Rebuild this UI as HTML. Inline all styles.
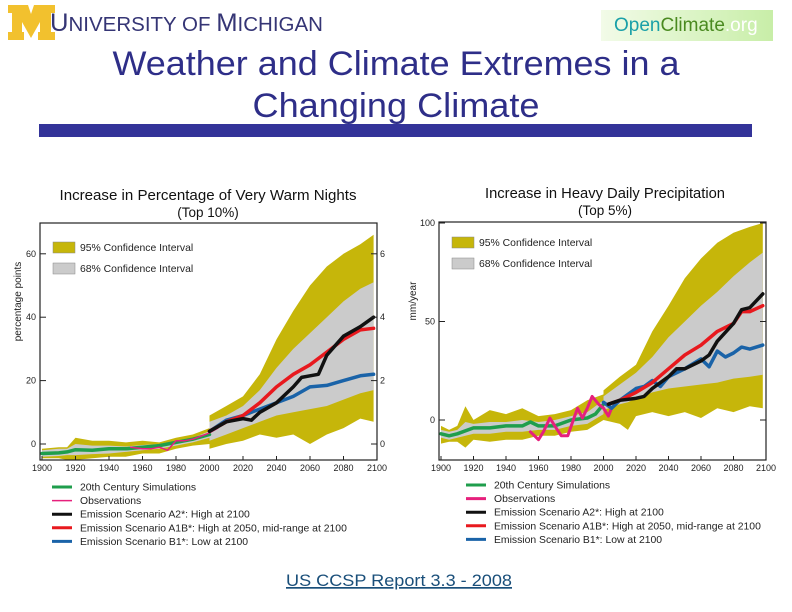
<!DOCTYPE html>
<html><head><meta charset="utf-8">
<style>
body{margin:0;background:#fff;}
#root{position:relative;width:792px;height:612px;overflow:hidden;font-family:"Liberation Sans",sans-serif;}
svg text{font-family:"Liberation Sans",sans-serif;}
</style></head>
<body>
<div id="root">
<svg id="svg" width="792" height="612" viewBox="0 0 792 612">
  <g>
    <path d="M8,5 H28 L31,14 L34,5 H55 V13 H51 V32 H55 V40 H38 V32 H40 V22 L31,38 L22,22 V32 H24 V40 H8 V32 H12 V13 H8 Z" fill="#f2c12e"/>
    <text x="50" y="31" font-family="Liberation Serif" font-size="25" fill="#353575" textLength="273" lengthAdjust="spacingAndGlyphs">U<tspan font-size="20">NIVERSITY OF </tspan>M<tspan font-size="20">ICHIGAN</tspan></text>
  </g>
  <defs><linearGradient id="oc" x1="0" x2="1"><stop offset="0" stop-color="#f2fbe8"/><stop offset="1" stop-color="#c8eea8"/></linearGradient></defs>
  <g>
    <rect x="601" y="10" width="172" height="31" fill="url(#oc)"/>
    <text x="614" y="31" font-size="19" fill="#1aa0a8">Open<tspan fill="#4a8a20">Climate</tspan><tspan fill="#fff">.org</tspan></text>
  </g>
  <text x="396" y="75" text-anchor="middle" font-size="34" fill="#2e2e88" textLength="567" lengthAdjust="spacingAndGlyphs">Weather and Climate Extremes in a</text>
  <text x="396" y="117" text-anchor="middle" font-size="34" fill="#2e2e88" textLength="287" lengthAdjust="spacingAndGlyphs">Changing Climate</text>
  <rect x="39" y="124" width="713" height="13" fill="#333399"/>
  <g id="left"></g>
  <g id="right"></g>
  <a><text x="399" y="586" text-anchor="middle" font-size="17" fill="#1a4f7a" text-decoration="underline" textLength="226" lengthAdjust="spacingAndGlyphs">US CCSP Report 3.3 - 2008</text></a>
</svg>
</div>
<script>
// ---------- Left chart data: Very Warm Nights ----------
const L_histYears=[1900,1910,1915,1920,1930,1940,1950,1960,1970,1980,1990,2000];
const L_histUp=[-1.5,-1,-1,2,1,1,0.5,1,0.5,2,3,5];
const L_histLo=[-4.5,-4.5,-5,-5,-4.5,-4,-4,-3,-3,-1.5,-0.5,0];
const L_hist68Up=[-2,-1.5,-1.5,0,-0.5,-0.5,-0.8,-0.3,0,1,2,4];
const L_hist68Lo=[-4,-3.8,-3.5,-3.5,-3.2,-3,-2.5,-2,-1.5,-0.5,0.5,2];
const L_greenYears=[1900,1910,1915,1920,1930,1940,1950,1960,1970,1980,1990,2000];
const L_green=[-3,-2.8,-2.5,-1.8,-2,-1.5,-1.5,-1,-0.5,0.5,1.5,3];
const L_obsYears=[1953,1960,1965,1970,1975,1980,1985,1990,1995,2000,2005];
const L_obs=[-1,-1.5,-1.5,-1,-2,1,1,1.5,2.5,3.5,5];
const L_futYears=[2000,2010,2020,2030,2040,2050,2060,2070,2080,2090,2098];
const L_f95Up=[9,12,15,22,33,42,50,56,60,63,66];
const L_f95Lo=[-1.5,0,1,3,2,3,0,3,5,8,7];
const L_f68Up=[7,9,12,17,24,30,35,40,45,49,51];
const L_f68Lo=[1,3,5,7,9,10,11,12,14,16,17];
const L_a2Years=[2000,2010,2020,2025,2030,2040,2050,2055,2060,2065,2070,2080,2090,2098];
const L_a2=[4,7,8,7.5,10,13,18,21,21.5,22,28,34,37,40];
const L_a1bYears=[2000,2010,2020,2030,2040,2050,2060,2070,2080,2090,2098];
const L_a1b=[4,7,9,13,18,22,25,29,33,36,36.5];
const L_b1Years=[2000,2010,2020,2030,2040,2050,2060,2070,2080,2090,2098];
const L_b1=[4,7.5,9,11,13,15,18,18.5,20,21.5,22];
const L_yTicks=[0,20,40,60];
const L_xTicks=[1900,1920,1940,1960,1980,2000,2020,2040,2060,2080,2100];

// ---------- Right chart data: Heavy Daily Precipitation ----------
const R_histYears=[1900,1905,1910,1915,1920,1930,1940,1950,1960,1970,1980,1990,2000];
const R_histUp=[-3,-5,-3,7,0,5,3,6,2,3,5,10,13];
const R_histLo=[-12,-11,-11,-14,-10,-11,-10,-10,-8,-8,-6,-5,0];
const R_hist68Up=[-5,-6,-5,-1,-2,-1,-1,0,-1,0,2,4,10];
const R_hist68Lo=[-9,-10,-9,-8,-7,-7,-6,-6,-5,-5,-3,-2,3];
const R_greenYears=[1900,1905,1910,1920,1930,1940,1950,1955,1960,1970,1980,1990,1995,2000];
const R_green=[-7,-8,-7,-4,-4,-3,-3,-1,-3,-3,0,1,3,8];
const R_obsYears=[1955,1960,1963,1967,1970,1974,1978,1981,1984,1987,1990,1993,1997,2000,2003,2005];
const R_obs=[-6,-10,-6,1,-3,-8,-8,-1,6,1,6,12,8,6,2,6];
const R_futYears=[2000,2010,2015,2020,2030,2040,2050,2060,2070,2080,2090,2098];
const R_f95Up=[15,22,25,28,45,58,72,82,90,95,98,100];
const R_f95Lo=[0,-2,-5,2,4,2,4,1,6,4,7,6];
const R_f68Up=[12,18,21,24,32,42,50,58,65,73,80,85];
const R_f68Lo=[5,8,9,11,14,16,17,18,19,21,22,23];
const R_a2Years=[2003,2010,2020,2025,2030,2040,2045,2050,2060,2065,2070,2080,2085,2090,2098];
const R_a2=[8,10,11,12,16,22,26,26,30,33,40,49,56,57,64];
const R_a1bYears=[2003,2010,2020,2030,2040,2050,2060,2070,2080,2085,2090,2098];
const R_a1b=[8,10,14,19,26,33,38,45,49,55,55,58];
const R_b1Years=[2000,2005,2010,2020,2025,2030,2035,2040,2050,2060,2065,2070,2075,2080,2085,2090,2098];
const R_b1=[9,6,10,16,17,20,17,22,26,31,27,35,32,34,37,36,38];
const R_yTicks=[0,50,100];
const R_xTicks=[1900,1920,1940,1960,1980,2000,2020,2040,2060,2080,2100];

const NS='http://www.w3.org/2000/svg';
function mk(tag,attrs,parent){const e=document.createElementNS(NS,tag);for(const k in attrs)e.setAttribute(k,attrs[k]);parent.appendChild(e);return e;}
function linePath(xs,ys,X,Y){return xs.map((x,i)=>(i?'L':'M')+X(x).toFixed(1)+','+Y(ys[i]).toFixed(1)).join(' ');}
function bandPath(xs,up,lo,X,Y){let d=linePath(xs,up,X,Y);for(let i=xs.length-1;i>=0;i--)d+=' L'+X(xs[i]).toFixed(1)+','+Y(lo[i]).toFixed(1);return d+' Z';}

const OLIVE='#c6b60a',GRAY='#cbcbcb',GREEN='#1f9e4c',PINK='#e6207c',RED='#e8191e',BLUE='#1a63a8';

function drawChart(g,cfg){
  const X=v=>cfg.x0+(v-1900)/200*(cfg.x1-cfg.x0);
  const Y=v=>cfg.y0-(v-0)*cfg.pxPer;
  let t=mk('text',{x:cfg.cx,y:cfg.ty,'text-anchor':'middle','font-size':15,fill:'#111',textLength:cfg.tlen,lengthAdjust:'spacingAndGlyphs'},g);
  
  
  t.textContent=cfg.title;
  t=mk('text',{x:cfg.cx,y:cfg.ty+17,'text-anchor':'middle','font-size':13.5,fill:'#111'},g);
  
  
  t.textContent=cfg.sub;
  let p=mk('path',{d:bandPath(cfg.d.hy,cfg.d.hu,cfg.d.hl,X,Y),fill:OLIVE},g);
  
  
  p=mk('path',{d:bandPath(cfg.d.hy,cfg.d.h6u,cfg.d.h6l,X,Y),fill:GRAY},g);
  
  
  p=mk('path',{d:bandPath(cfg.d.fy,cfg.d.fu,cfg.d.fl,X,Y),fill:OLIVE},g);
  
  
  p=mk('path',{d:bandPath(cfg.d.fy,cfg.d.f6u,cfg.d.f6l,X,Y),fill:GRAY},g);
  
  
  const series=[['green-line',cfg.d.gy,cfg.d.g,GREEN,3.5],['observations-line',cfg.d.oy,cfg.d.o,PINK,cfg.obsW],['b1-line',cfg.d.by,cfg.d.b,BLUE,3.5],['a1b-line',cfg.d.ry,cfg.d.r,RED,3.5],['a2-line',cfg.d.ky,cfg.d.k,'#111',3.5]];
  series.forEach(s=>{
    const l=mk('path',{d:linePath(s[1],s[2],X,Y),fill:'none',stroke:s[3],'stroke-width':s[4],'stroke-linejoin':'round','stroke-linecap':'round'},g);
    
    
  });
  const fr=mk('rect',{x:cfg.x0-2,y:cfg.top,width:cfg.x1-cfg.x0+2,height:cfg.bot-cfg.top,fill:'none',stroke:'#222','stroke-width':1.2},g);
  
  
  cfg.yt.forEach(v=>{
    mk('line',{x1:cfg.x0-2,x2:cfg.x0+4,y1:Y(v),y2:Y(v),stroke:'#222'},g);
    mk('line',{x1:cfg.x1-6,x2:cfg.x1,y1:Y(v),y2:Y(v),stroke:'#222'},g);
    const tl=mk('text',{x:cfg.x0-6,y:Y(v)+3,'text-anchor':'end','font-size':9,fill:'#222'},g);
    
    
    tl.textContent=v;
    if(cfg.rightLabels){const rl=mk('text',{x:cfg.x1+3,y:Y(v)+3,'font-size':9,fill:'#222'},g);rl.textContent=String(v).charAt(0);}
  });
  cfg.xt.forEach(v=>{
    mk('line',{x1:X(v),x2:X(v),y1:cfg.bot,y2:cfg.bot-4,stroke:'#222'},g);
    const xl=mk('text',{x:X(v),y:cfg.bot+11,'text-anchor':'middle','font-size':9,fill:'#222'},g);
    
    
    xl.textContent=v;
  });
  const yl=mk('text',{x:cfg.ylx,y:(cfg.top+cfg.bot)/2-40,'text-anchor':'middle','font-size':10,fill:'#222',transform:`rotate(-90 ${cfg.ylx} ${(cfg.top+cfg.bot)/2-40})`},g);
  
  
  yl.textContent=cfg.ylab;
  [['95% Confidence Interval',OLIVE,0],['68% Confidence Interval',GRAY,1]].forEach(e=>{
    const yy=cfg.ciY+e[2]*21;
    const r=mk('rect',{x:cfg.ciX,y:yy,width:22,height:11,fill:e[1],stroke:'#888','stroke-width':0.5},g);
    
    
    const tt=mk('text',{x:cfg.ciX+27,y:yy+9,'font-size':10.4,fill:'#222'},g);
    
    
    tt.textContent=e[0];
  });
  const lg=[['20th Century Simulations',GREEN],['Observations',PINK],['Emission Scenario A2*: High at 2100','#111'],['Emission Scenario A1B*: High at 2050, mid-range at 2100',RED],['Emission Scenario B1*: Low at 2100',BLUE]];
  lg.forEach((e,i)=>{
    const yy=cfg.lgY+i*13.6;
    const ln=mk('line',{x1:cfg.lgX,x2:cfg.lgX+20,y1:yy,y2:yy,stroke:e[1],'stroke-width':(i==1&&cfg.obsW<3)?1.5:3},g);
    
    
    const tt=mk('text',{x:cfg.lgX+28,y:yy+3.5,'font-size':10.4,fill:'#222'},g);
    
    
    tt.textContent=e[0];
  });
}

drawChart(document.getElementById('left'),{
  x0:42,x1:377,y0:444,pxPer:3.17,top:223,bot:460,cx:208,ty:200,tlen:297,title:'Increase in Percentage of Very Warm Nights',sub:'(Top 10%)',
  ylab:'percentage points',ylx:21,ciX:53,ciY:242,lgX:52,lgY:487,obsW:1.5,rightLabels:true,yt:L_yTicks,xt:L_xTicks,
  d:{hy:L_histYears,hu:L_histUp,hl:L_histLo,h6u:L_hist68Up,h6l:L_hist68Lo,gy:L_greenYears,g:L_green,oy:L_obsYears,o:L_obs,
     fy:L_futYears,fu:L_f95Up,fl:L_f95Lo,f6u:L_f68Up,f6l:L_f68Lo,ky:L_a2Years,k:L_a2,ry:L_a1bYears,r:L_a1b,by:L_b1Years,b:L_b1}
});
drawChart(document.getElementById('right'),{
  x0:441,x1:766,y0:420,pxPer:1.97,top:222,bot:460,cx:605,ty:198,tlen:240,title:'Increase in Heavy Daily Precipitation',sub:'(Top 5%)',
  ylab:'mm/year',ylx:416,ciX:452,ciY:237,lgX:466,lgY:485,obsW:3,rightLabels:false,yt:R_yTicks,xt:R_xTicks,
  d:{hy:R_histYears,hu:R_histUp,hl:R_histLo,h6u:R_hist68Up,h6l:R_hist68Lo,gy:R_greenYears,g:R_green,oy:R_obsYears,o:R_obs,
     fy:R_futYears,fu:R_f95Up,fl:R_f95Lo,f6u:R_f68Up,f6l:R_f68Lo,ky:R_a2Years,k:R_a2,ry:R_a1bYears,r:R_a1b,by:R_b1Years,b:R_b1}
});
</script>
</body></html>
